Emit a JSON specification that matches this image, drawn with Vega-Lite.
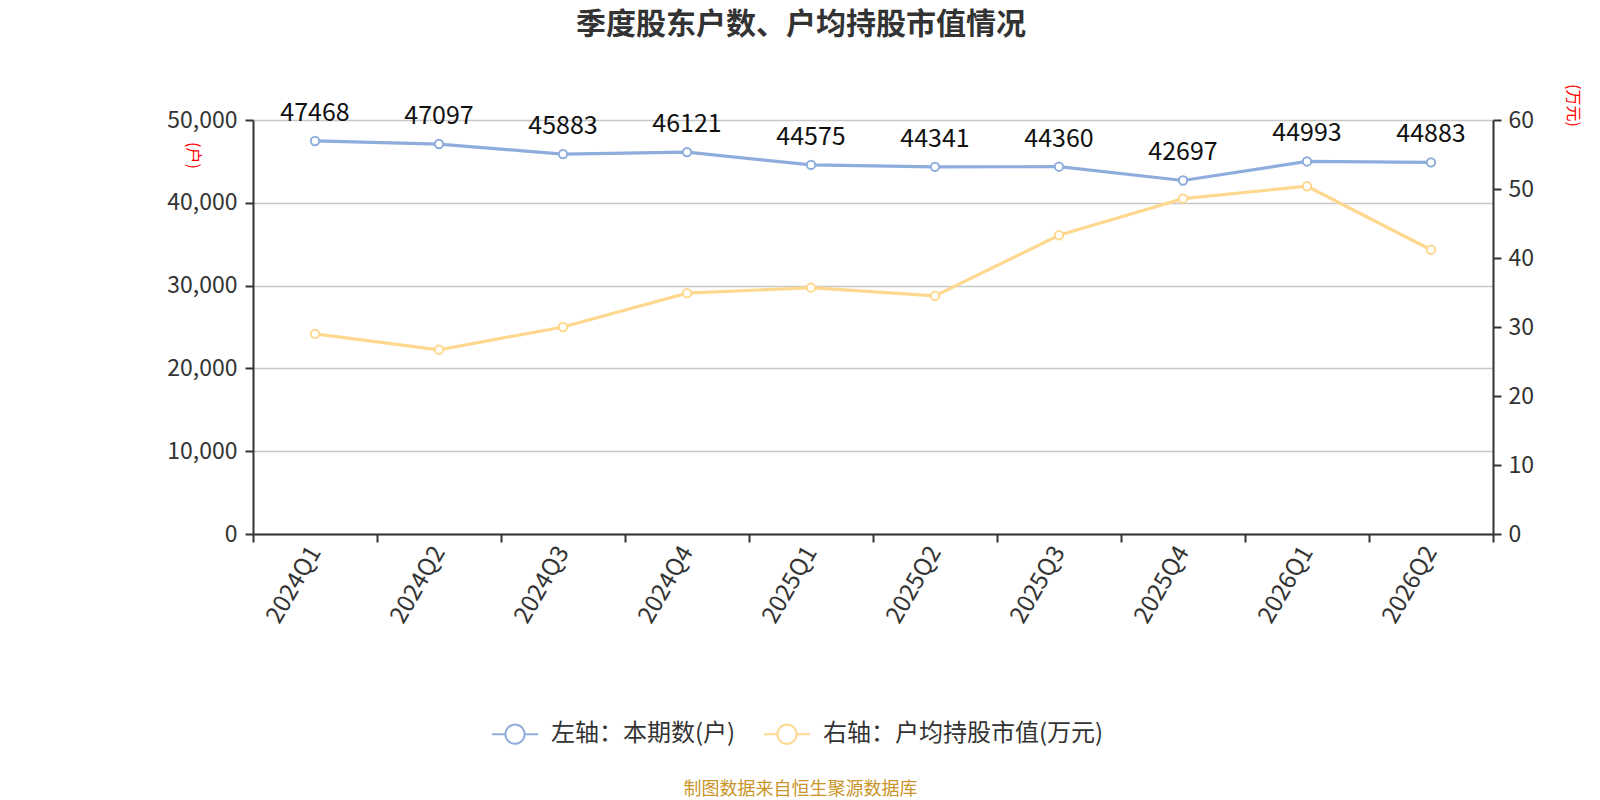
{
  "$schema": "https://vega.github.io/schema/vega-lite/v6.json",
  "width": 1240,
  "height": 414,
  "autosize": {"type": "none"},
  "padding": {"left": 253, "top": 120, "right": 107, "bottom": 266},
  "background": "white",
  "config": {
    "font": "Noto Sans CJK SC",
    "view": {"stroke": null},
    "axis": {
      "domainColor": "#333",
      "domainWidth": 2,
      "tickColor": "#333",
      "tickWidth": 2,
      "tickSize": 8,
      "labelColor": "#333",
      "labelFontSize": 23,
      "gridColor": "#c8c8c8",
      "gridWidth": 1.5
    }
  },
  "title": {
    "text": "季度股东户数、户均持股市值情况",
    "fontSize": 30,
    "fontWeight": "bold",
    "color": "#333",
    "anchor": "middle",
    "dx": -72,
    "offset": 44
  },
  "data": {
    "values": [
      {"quarter": "2024Q1", "households": 47468, "value": 29.0},
      {"quarter": "2024Q2", "households": 47097, "value": 26.7},
      {"quarter": "2024Q3", "households": 45883, "value": 30.0},
      {"quarter": "2024Q4", "households": 46121, "value": 34.9},
      {"quarter": "2025Q1", "households": 44575, "value": 35.7},
      {"quarter": "2025Q2", "households": 44341, "value": 34.5},
      {"quarter": "2025Q3", "households": 44360, "value": 43.3},
      {"quarter": "2025Q4", "households": 42697, "value": 48.6},
      {"quarter": "2026Q1", "households": 44993, "value": 50.4},
      {"quarter": "2026Q2", "households": 44883, "value": 41.2}
    ]
  },
  "encoding": {
    "x": {
      "field": "quarter",
      "type": "ordinal",
      "sort": null,
      "scale": {"paddingInner": 0, "paddingOuter": 0},
      "axis": {
        "labelAngle": -60,
        "labelFontSize": 24,
        "tickBand": "extent",
        "grid": false,
        "labelPadding": 6,
        "title": "制图数据来自恒生聚源数据库",
        "titleFontSize": 18,
        "titleFontWeight": "normal",
        "titleColor": "#c9952b",
        "titleX": 547,
        "titleY": 255,
        "titleAlign": "center",
        "titleBaseline": "middle"
      }
    }
  },
  "layer": [
    {
      "encoding": {
        "y": {
          "field": "households",
          "type": "quantitative",
          "scale": {"domain": [0, 50000], "nice": false},
          "axis": {
            "values": [0, 10000, 20000, 30000, 40000, 50000],
            "labelExpr": "format(datum.value, ',')",
            "grid": true,
            "labelPadding": 8,
            "title": "(户)",
            "titleColor": "red",
            "titleFontSize": 16,
            "titleFontWeight": "normal",
            "titleAngle": 90,
            "titleX": -61,
            "titleY": 35,
            "titleAlign": "center",
            "titleBaseline": "middle"
          }
        }
      },
      "layer": [
        {
          "mark": {"type": "line", "strokeWidth": 3.2},
          "encoding": {
            "color": {
              "datum": "左轴：本期数(户)",
              "scale": {
                "domain": ["左轴：本期数(户)", "右轴：户均持股市值(万元)"],
                "range": ["#8eaddc", "#ffd88f"]
              },
              "legend": {
                "orient": "none",
                "legendX": 238,
                "legendY": 590,
                "direction": "horizontal",
                "title": null,
                "symbolType": "M-1,0L-0.42,0M0.42,0L1,0M0.42,0A0.42,0.42 0 1 1 -0.42,0A0.42,0.42 0 1 1 0.42,0",
                "symbolSize": 2100,
                "symbolStrokeWidth": 2,
                "labelFontSize": 24,
                "labelColor": "#333",
                "labelLimit": 0,
                "labelOffset": 12,
                "columnPadding": 24,
                "encode": {"symbols": {"update": {"fill": {"value": "white"}, "opacity": {"value": 1}}}}
              }
            }
          }
        },
        {
          "mark": {"type": "point", "filled": true, "fill": "white", "stroke": "#8eaddc", "strokeWidth": 2, "size": 70, "opacity": 1},
          "encoding": {}
        },
        {
          "mark": {"type": "text", "dy": -20, "baseline": "alphabetic", "fontSize": 25, "color": "#111"},
          "encoding": {"text": {"field": "households", "type": "quantitative", "format": "d"}}
        }
      ]
    },
    {
      "encoding": {
        "y": {
          "field": "value",
          "type": "quantitative",
          "scale": {"domain": [0, 60], "nice": false},
          "axis": {
            "orient": "right",
            "values": [0, 10, 20, 30, 40, 50, 60],
            "grid": false,
            "labelPadding": 7,
            "title": "(万元)",
            "titleColor": "red",
            "titleFontSize": 16,
            "titleFontWeight": "normal",
            "titleAngle": 90,
            "titleX": 79,
            "titleY": -15,
            "titleAlign": "center",
            "titleBaseline": "middle"
          }
        }
      },
      "layer": [
        {
          "mark": {"type": "line", "strokeWidth": 3.2},
          "encoding": {"color": {"datum": "右轴：户均持股市值(万元)"}}
        },
        {
          "mark": {"type": "point", "filled": true, "fill": "white", "stroke": "#ffd88f", "strokeWidth": 2, "size": 70, "opacity": 1},
          "encoding": {}
        }
      ]
    }
  ],
  "resolve": {"scale": {"y": "independent"}}
}
